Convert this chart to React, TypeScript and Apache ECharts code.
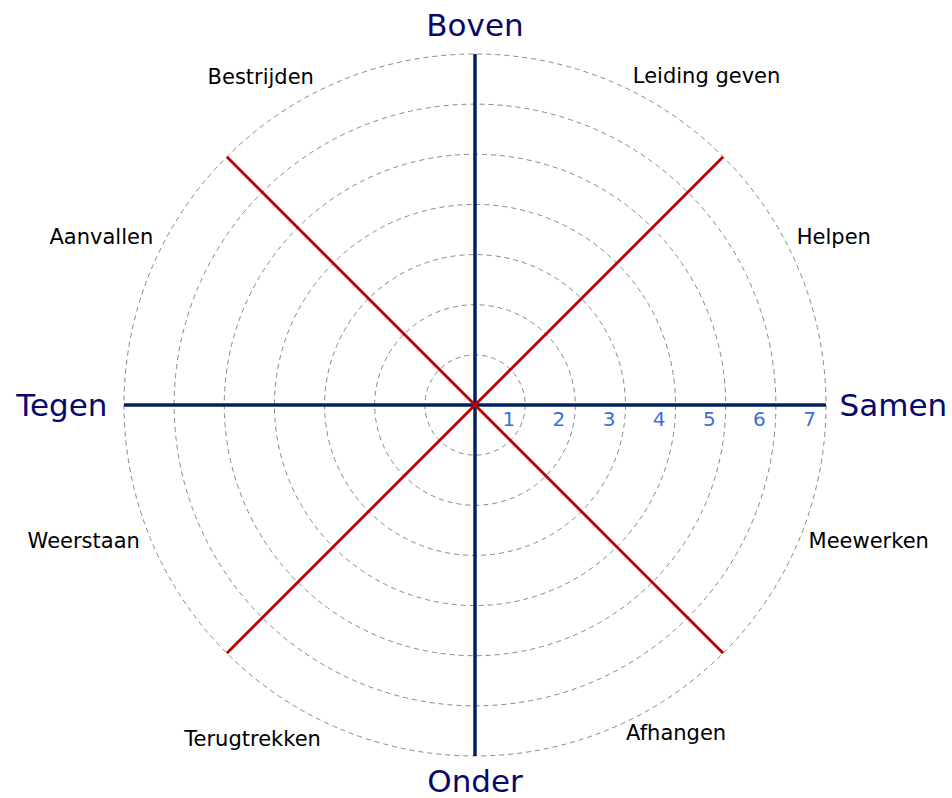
import React, { useEffect, useRef } from "react";
import * as echarts from "echarts";

// Sector labels, counter-clockwise starting just above "Samen"
const sectorNames = [
  "Helpen",
  "Leiding geven",
  "Bestrijden",
  "Aanvallen",
  "Weerstaan",
  "Terugtrekken",
  "Afhangen",
  "Meewerken",
];
// Main axis names: right, top, left, bottom
const axisNames = ["Samen", "Boven", "Tegen", "Onder"];
// Radius scale ticks
const radiusTicks = [1, 2, 3, 4, 5, 6, 7];
const radiusMax = 7;

const NAVY = "#002060";
const RED = "#c00000";
const FONT = "DejaVu Sans";

export default function App() {
  const ref = useRef<HTMLDivElement>(null);

  useEffect(() => {
    if (!ref.current) return;
    const chart = echarts.init(ref.current, undefined, { renderer: "svg" });

    // Label anchor placement (angle in degrees, radius in axis units)
    const sectorAngles = [26, 63.6, 116.9, 154, 203.7, 244.5, 295.5, 336.2];
    const sectorRadii = [7.14, 7.08, 7.1, 7.14, 7.3, 7.14, 7.0, 7.27];
    const sectorAlign = (a: number) => (a > 90 && a < 270 ? "right" : "left");
    const sectorVAlign = (a: number) =>
      Math.sin((a * Math.PI) / 180) < -0.8 ? "top" : "bottom";

    const axisLabelPos = [
      { angle: 0, r: 7.27, align: "left" },
      { angle: 90, r: 7.57, align: "center" },
      { angle: 180, r: 7.33, align: "right" },
      { angle: 270, r: 7.5, align: "center" },
    ];

    const option: any = {
      animation: false,
      backgroundColor: "#ffffff",
      polar: { center: [475, 405], radius: 351 },
      angleAxis: {
        type: "value",
        min: 0,
        max: 360,
        interval: 45,
        startAngle: 0,
        clockwise: false,
        axisLine: { show: false },
        axisTick: { show: false },
        axisLabel: { show: false },
        splitLine: { show: false },
      },
      radiusAxis: {
        type: "value",
        min: 0,
        max: radiusMax,
        interval: 1,
        axisLine: { show: false },
        axisTick: { show: false },
        splitLine: {
          show: true,
          lineStyle: { color: "#888888", type: [5, 4], width: 1 },
        },
        axisLabel: {
          show: true,
          showMinLabel: false,
          color: "#3a6fd8",
          fontFamily: FONT,
          fontSize: 20,
          align: "right",
          verticalAlign: "top",
          margin: 5,
          padding: [9, 10, 0, 0],
          formatter: (v: number) => (radiusTicks.includes(v) ? String(v) : ""),
        },
      },
      series: [
        {
          type: "line",
          coordinateSystem: "polar",
          clip: false,
          symbol: "none",
          silent: true,
          lineStyle: { color: NAVY, width: 3.5 },
          data: [
            [radiusMax + 0.07, 180],
            [radiusMax + 0.02, 0],
          ],
          z: 3,
        },
        {
          type: "line",
          coordinateSystem: "polar",
          clip: false,
          symbol: "none",
          silent: true,
          lineStyle: { color: NAVY, width: 3.5 },
          data: [
            [radiusMax + 0.12, 90],
            [radiusMax + 0.02, 270],
          ],
          z: 3,
        },
        {
          type: "line",
          coordinateSystem: "polar",
          clip: false,
          symbol: "none",
          silent: true,
          lineStyle: { color: RED, width: 2.8 },
          data: [
            [radiusMax, 45],
            [radiusMax, 225],
          ],
          z: 4,
        },
        {
          type: "line",
          coordinateSystem: "polar",
          clip: false,
          symbol: "none",
          silent: true,
          lineStyle: { color: RED, width: 2.8 },
          data: [
            [radiusMax, 135],
            [radiusMax, 315],
          ],
          z: 4,
        },
        {
          type: "scatter",
          coordinateSystem: "polar",
          clip: false,
          symbolSize: 0,
          silent: true,
          itemStyle: { opacity: 1 },
          data: sectorNames.map((name, i) => ({
            value: [sectorRadii[i], sectorAngles[i]],
            name,
            label: {
              show: true,
              position: "inside",
              formatter: name,
              align: sectorAlign(sectorAngles[i]),
              verticalAlign: sectorVAlign(sectorAngles[i]),
              color: "#000000",
              fontFamily: FONT,
              fontSize: 21,
              lineHeight: 22,
            },
          })),
        },
        {
          type: "scatter",
          coordinateSystem: "polar",
          clip: false,
          symbolSize: 0,
          silent: true,
          itemStyle: { opacity: 1 },
          data: axisNames.map((name, i) => ({
            value: [axisLabelPos[i].r, axisLabelPos[i].angle],
            name,
            label: {
              show: true,
              position: "inside",
              formatter: name,
              align: axisLabelPos[i].align,
              verticalAlign: "middle",
              color: "#08086a",
              fontFamily: FONT,
              fontSize: 31,
              lineHeight: 28,
            },
          })),
        },
      ],
    };

    chart.setOption(option);
    return () => chart.dispose();
  }, []);

  return (
    <div
      ref={ref}
      style={{ position: "absolute", left: 0, top: 0, width: 952, height: 798 }}
    />
  );
}
